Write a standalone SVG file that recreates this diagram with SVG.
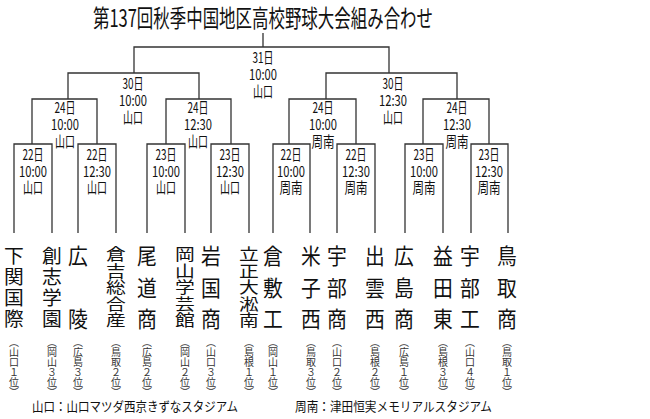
<svg xmlns="http://www.w3.org/2000/svg" width="650" height="419" viewBox="0 0 650 419">
<style>
text{font-family:"Noto Sans CJK JP","Noto Sans",sans-serif;fill:#111}
.t{font-size:24px}
.l{font-size:15px;text-anchor:middle}
.n{font-size:22px;text-anchor:middle}
.p{font-size:10px;writing-mode:tb;fill:#333}
.f{font-size:13px}
.c path{fill:none;stroke:#333;stroke-width:1.3}
</style>
<rect width="650" height="419" fill="#fff"/>
<text class="t" x="93" y="27" textLength="340" lengthAdjust="spacingAndGlyphs">第137回秋季中国地区高校野球大会組み合わせ</text>
<g class="c" id="connectors">
<path d="M263 33V47M134 73V47H389V73"/>
<path d="M68 99V73H199V99M326 99V73H457V99"/>
<path d="M32 144V99H97V144M166 144V99H231V144M289 144V99H356V144M423 144V99H489V144"/>
<path d="M14 233V144H52V233M78 233V144H116V233M147 233V144H185V233M211 233V144H249V233M273 233V144H310V233M337 233V144H375V233M405 233V144H443V233M471 233V144H508V233"/>
</g>
<g id="labels">
<g id="r4"><text class="l" x="263" y="63" textLength="21" lengthAdjust="spacingAndGlyphs">31日</text><text class="l" x="263" y="80" textLength="28" lengthAdjust="spacingAndGlyphs">10:00</text><text class="l" x="263" y="97" textLength="20" lengthAdjust="spacingAndGlyphs">山口</text></g>
<g id="r3a"><text class="l" x="133" y="89" textLength="21" lengthAdjust="spacingAndGlyphs">30日</text><text class="l" x="133" y="106" textLength="28" lengthAdjust="spacingAndGlyphs">10:00</text><text class="l" x="133" y="123" textLength="20" lengthAdjust="spacingAndGlyphs">山口</text></g>
<g id="r3b"><text class="l" x="393" y="89" textLength="21" lengthAdjust="spacingAndGlyphs">30日</text><text class="l" x="393" y="106" textLength="28" lengthAdjust="spacingAndGlyphs">12:30</text><text class="l" x="393" y="123" textLength="20" lengthAdjust="spacingAndGlyphs">山口</text></g>
<g id="r2a"><text class="l" x="65" y="113" textLength="21" lengthAdjust="spacingAndGlyphs">24日</text><text class="l" x="65" y="130" textLength="28" lengthAdjust="spacingAndGlyphs">10:00</text><text class="l" x="65" y="147" textLength="20" lengthAdjust="spacingAndGlyphs">山口</text></g>
<g id="r2b"><text class="l" x="198" y="113" textLength="21" lengthAdjust="spacingAndGlyphs">24日</text><text class="l" x="198" y="130" textLength="28" lengthAdjust="spacingAndGlyphs">12:30</text><text class="l" x="198" y="147" textLength="20" lengthAdjust="spacingAndGlyphs">山口</text></g>
<g id="r2c"><text class="l" x="323" y="113" textLength="21" lengthAdjust="spacingAndGlyphs">24日</text><text class="l" x="323" y="130" textLength="28" lengthAdjust="spacingAndGlyphs">10:00</text><text class="l" x="323" y="147" textLength="23" lengthAdjust="spacingAndGlyphs">周南</text></g>
<g id="r2d"><text class="l" x="457" y="113" textLength="21" lengthAdjust="spacingAndGlyphs">24日</text><text class="l" x="457" y="130" textLength="28" lengthAdjust="spacingAndGlyphs">12:30</text><text class="l" x="457" y="147" textLength="23" lengthAdjust="spacingAndGlyphs">周南</text></g>
<g id="r1a"><text class="l" x="33" y="160" textLength="21" lengthAdjust="spacingAndGlyphs">22日</text><text class="l" x="33" y="177" textLength="28" lengthAdjust="spacingAndGlyphs">10:00</text><text class="l" x="33" y="193" textLength="20" lengthAdjust="spacingAndGlyphs">山口</text></g>
<g id="r1b"><text class="l" x="97" y="160" textLength="21" lengthAdjust="spacingAndGlyphs">22日</text><text class="l" x="97" y="177" textLength="28" lengthAdjust="spacingAndGlyphs">12:30</text><text class="l" x="97" y="193" textLength="20" lengthAdjust="spacingAndGlyphs">山口</text></g>
<g id="r1c"><text class="l" x="166" y="160" textLength="21" lengthAdjust="spacingAndGlyphs">23日</text><text class="l" x="166" y="177" textLength="28" lengthAdjust="spacingAndGlyphs">10:00</text><text class="l" x="166" y="193" textLength="20" lengthAdjust="spacingAndGlyphs">山口</text></g>
<g id="r1d"><text class="l" x="230" y="160" textLength="21" lengthAdjust="spacingAndGlyphs">23日</text><text class="l" x="230" y="177" textLength="28" lengthAdjust="spacingAndGlyphs">12:30</text><text class="l" x="230" y="193" textLength="20" lengthAdjust="spacingAndGlyphs">山口</text></g>
<g id="r1e"><text class="l" x="291" y="160" textLength="21" lengthAdjust="spacingAndGlyphs">22日</text><text class="l" x="291" y="177" textLength="28" lengthAdjust="spacingAndGlyphs">10:00</text><text class="l" x="291" y="193" textLength="23" lengthAdjust="spacingAndGlyphs">周南</text></g>
<g id="r1f"><text class="l" x="356" y="160" textLength="21" lengthAdjust="spacingAndGlyphs">22日</text><text class="l" x="356" y="177" textLength="28" lengthAdjust="spacingAndGlyphs">12:30</text><text class="l" x="356" y="193" textLength="23" lengthAdjust="spacingAndGlyphs">周南</text></g>
<g id="r1g"><text class="l" x="424" y="160" textLength="21" lengthAdjust="spacingAndGlyphs">23日</text><text class="l" x="424" y="177" textLength="28" lengthAdjust="spacingAndGlyphs">10:00</text><text class="l" x="424" y="193" textLength="23" lengthAdjust="spacingAndGlyphs">周南</text></g>
<g id="r1h"><text class="l" x="489" y="160" textLength="21" lengthAdjust="spacingAndGlyphs">23日</text><text class="l" x="489" y="177" textLength="28" lengthAdjust="spacingAndGlyphs">12:30</text><text class="l" x="489" y="193" textLength="23" lengthAdjust="spacingAndGlyphs">周南</text></g>
</g>
<g id="teams">
<g id="t1"><text class="n" transform="translate(14,263) scale(0.9,0.88)">下</text><text class="n" transform="translate(14,284) scale(0.9,0.88)">関</text><text class="n" transform="translate(14,305) scale(0.9,0.88)">国</text><text class="n" transform="translate(14,326) scale(0.9,0.88)">際</text><text class="p" x="14" y="337">（山口１位）</text></g>
<g id="t2"><text class="n" transform="translate(52,263) scale(0.9,0.88)">創</text><text class="n" transform="translate(52,284) scale(0.9,0.88)">志</text><text class="n" transform="translate(52,305) scale(0.9,0.88)">学</text><text class="n" transform="translate(52,326) scale(0.9,0.88)">園</text><text class="p" x="52" y="337">（岡山３位）</text></g>
<g id="t3"><text class="n" transform="translate(78,264) scale(0.9,1)">広</text><text class="n" transform="translate(78,327) scale(0.9,1)">陵</text><text class="p" x="78" y="337">（広島３位）</text></g>
<g id="t4"><text class="n" transform="translate(116,260) scale(0.9,0.72)">倉</text><text class="n" transform="translate(116,276.5) scale(0.9,0.72)">吉</text><text class="n" transform="translate(116,293) scale(0.9,0.72)">総</text><text class="n" transform="translate(116,309.5) scale(0.9,0.72)">合</text><text class="n" transform="translate(116,326) scale(0.9,0.72)">産</text><text class="p" x="116" y="337">（鳥取２位）</text></g>
<g id="t5"><text class="n" transform="translate(147,264) scale(0.9,1)">尾</text><text class="n" transform="translate(147,296) scale(0.9,1)">道</text><text class="n" transform="translate(147,327) scale(0.9,1)">商</text><text class="p" x="147" y="337">（広島２位）</text></g>
<g id="t6"><text class="n" transform="translate(185,260) scale(0.9,0.72)">岡</text><text class="n" transform="translate(185,276.5) scale(0.9,0.72)">山</text><text class="n" transform="translate(185,293) scale(0.9,0.72)">学</text><text class="n" transform="translate(185,309.5) scale(0.9,0.72)">芸</text><text class="n" transform="translate(185,326) scale(0.9,0.72)">館</text><text class="p" x="185" y="337">（岡山２位）</text></g>
<g id="t7"><text class="n" transform="translate(211,264) scale(0.9,1)">岩</text><text class="n" transform="translate(211,296) scale(0.9,1)">国</text><text class="n" transform="translate(211,327) scale(0.9,1)">商</text><text class="p" x="211" y="337">（山口３位）</text></g>
<g id="t8"><text class="n" transform="translate(249,260) scale(0.9,0.72)">立</text><text class="n" transform="translate(249,276.5) scale(0.9,0.72)">正</text><text class="n" transform="translate(249,293) scale(0.9,0.72)">大</text><text class="n" transform="translate(249,309.5) scale(0.9,0.72)">淞</text><text class="n" transform="translate(249,326) scale(0.9,0.72)">南</text><text class="p" x="249" y="337">（島根１位）</text></g>
<g id="t9"><text class="n" transform="translate(273,264) scale(0.9,1)">倉</text><text class="n" transform="translate(273,296) scale(0.9,1)">敷</text><text class="n" transform="translate(273,327) scale(0.9,1)">工</text><text class="p" x="273" y="337">（岡山１位）</text></g>
<g id="t10"><text class="n" transform="translate(311,264) scale(0.9,1)">米</text><text class="n" transform="translate(311,296) scale(0.9,1)">子</text><text class="n" transform="translate(311,327) scale(0.9,1)">西</text><text class="p" x="311" y="337">（鳥取３位）</text></g>
<g id="t11"><text class="n" transform="translate(337,264) scale(0.9,1)">宇</text><text class="n" transform="translate(337,296) scale(0.9,1)">部</text><text class="n" transform="translate(337,327) scale(0.9,1)">商</text><text class="p" x="337" y="337">（山口２位）</text></g>
<g id="t12"><text class="n" transform="translate(375,264) scale(0.9,1)">出</text><text class="n" transform="translate(375,296) scale(0.9,1)">雲</text><text class="n" transform="translate(375,327) scale(0.9,1)">西</text><text class="p" x="375" y="337">（島根２位）</text></g>
<g id="t13"><text class="n" transform="translate(404,264) scale(0.9,1)">広</text><text class="n" transform="translate(404,296) scale(0.9,1)">島</text><text class="n" transform="translate(404,327) scale(0.9,1)">商</text><text class="p" x="404" y="337">（広島１位）</text></g>
<g id="t14"><text class="n" transform="translate(443,264) scale(0.9,1)">益</text><text class="n" transform="translate(443,296) scale(0.9,1)">田</text><text class="n" transform="translate(443,327) scale(0.9,1)">東</text><text class="p" x="443" y="337">（島根３位）</text></g>
<g id="t15"><text class="n" transform="translate(470,264) scale(0.9,1)">宇</text><text class="n" transform="translate(470,296) scale(0.9,1)">部</text><text class="n" transform="translate(470,327) scale(0.9,1)">工</text><text class="p" x="470" y="337">（山口４位）</text></g>
<g id="t16"><text class="n" transform="translate(507,264) scale(0.9,1)">鳥</text><text class="n" transform="translate(507,296) scale(0.9,1)">取</text><text class="n" transform="translate(507,327) scale(0.9,1)">商</text><text class="p" x="507" y="337">（鳥取１位）</text></g>
</g>
<text class="f" x="32" y="411" textLength="206" lengthAdjust="spacingAndGlyphs">山口：山口マツダ西京きずなスタジアム</text>
<text class="f" x="295" y="411" textLength="197" lengthAdjust="spacingAndGlyphs">周南：津田恒実メモリアルスタジアム</text>
</svg>
